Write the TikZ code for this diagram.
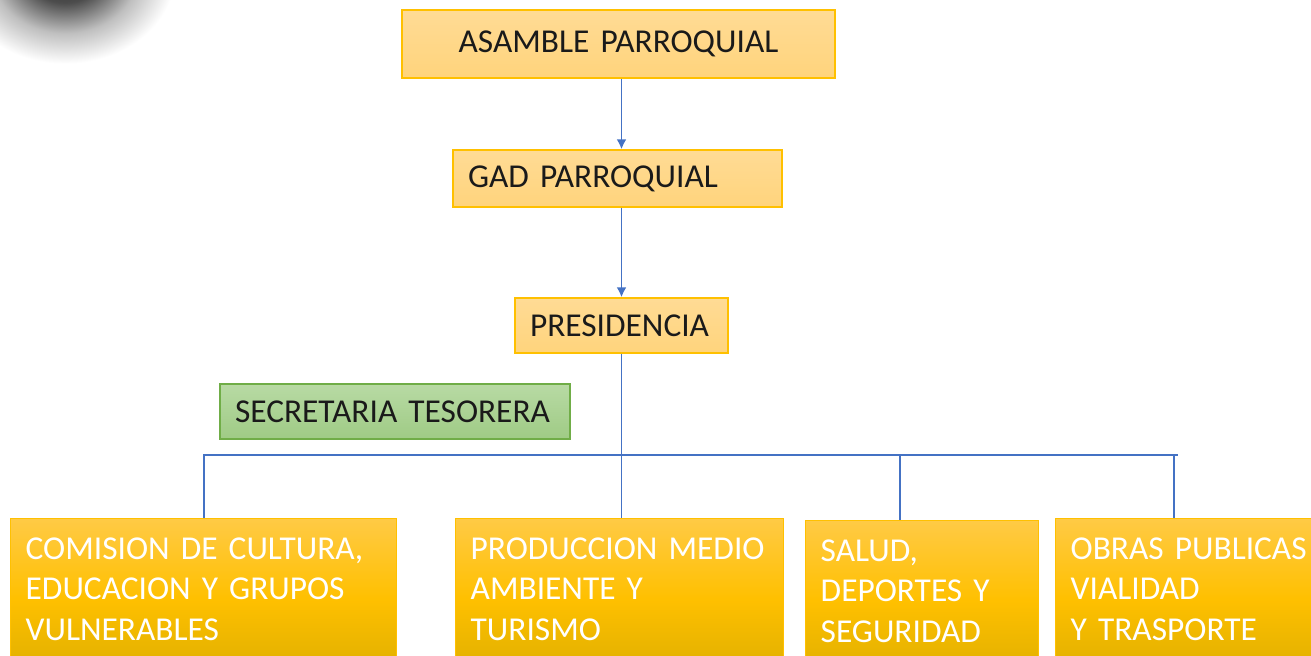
\documentclass[tikz,border=0pt]{standalone}
\usepackage{fontspec}
\setmainfont{Carlito}
\usepackage{tikz}
\usetikzlibrary{arrows.meta,positioning}
\definecolor{OrgBlue}{HTML}{4472C4}
\definecolor{OrgGold}{HTML}{FFC000}
\definecolor{OrgLightGold}{HTML}{FFDB95}
\definecolor{OrgLightGoldB}{HTML}{FFD47C}
\definecolor{OrgGreen}{HTML}{70AD47}
\definecolor{OrgLightGreen}{HTML}{B8DAA4}
\definecolor{OrgMidGreen}{HTML}{9FCB85}
\definecolor{OrgGoldTop}{HTML}{FFCA45}
\definecolor{OrgGoldBottom}{HTML}{DDAE00}
\definecolor{OrgText}{HTML}{1A1A1A}
\pgfdeclareradialshading{cornerblur}{\pgfpoint{0bp}{0bp}}{%
  color(0bp)=(black!85); color(8bp)=(black!70); color(16bp)=(black!25); color(24bp)=(white); color(50bp)=(white)}
\tikzset{
  office/.style={
    draw=OrgGold,
    line width=.8pt,
    font=\fontsize{19}{23}\selectfont,
    text=OrgText,
    top color=OrgLightGold,
    bottom color=OrgLightGoldB,
    inner xsep=3mm,
    inner ysep=0pt
  },
  secretary/.style={office,draw=OrgGreen,top color=OrgLightGreen,bottom color=OrgMidGreen},
  commission/.style={
    office,
    anchor=north west,
    align=left,
    inner ysep=3.8mm,
    text depth=2cm,
    text=white,
    top color=OrgGoldTop,
    bottom color=OrgGoldBottom,
    middle color=OrgGold
  },
  arrow/.style={-{Latex[length=2mm,width=2mm]},draw=OrgBlue,line width=1.1pt},
  link/.style={draw=OrgBlue,line width=1.1pt}
}

\begin{document}
\begin{tikzpicture}[x=1cm,y=1cm]
  \useasboundingbox (0,0) rectangle (26.22,13.1);
  \clip (0,0) rectangle (26.22,13.1);

  % Blurred shadow in the corner.
  \shade[shading=cornerblur] (1.3,13.65) ellipse (2.3cm and 1.9cm);

  % Chain of command down to the presidency.
  \node[office,text width=80.6mm,align=center,minimum height=13.6mm] (asamblea)    at (12.37,12.22) {ASAMBLE PARROQUIAL};
  \node[office,text width=59.8mm,align=left,minimum height=11.4mm]   (gad)         at (12.35,9.53)  {GAD PARROQUIAL};
  \node[office,text width=36.6mm,align=left,minimum height=11mm]     (presidencia) at (12.43,6.59)  {PRESIDENCIA};
  \node[secretary,text width=64mm,align=left,minimum height=11mm]    (secretaria)  at (7.90,4.87)   {SECRETARIA TESORERA};

  \draw[arrow] (asamblea.south -| presidencia) -- (gad.north -| presidencia);
  \draw[arrow] (gad.south -| presidencia) -- (presidencia.north);

  % Commissions along the bottom, cut off by the page edge.
  \node[commission,text width=71.2mm] (comision)   at (0.2,2.74)  {COMISION DE CULTURA,\\EDUCACION Y GRUPOS\\VULNERABLES};
  \node[commission,text width=59.6mm] (produccion) at (9.1,2.74)  {PRODUCCION MEDIO\\AMBIENTE Y\\TURISMO};
  \node[commission,text width=40.6mm] (salud)      at (16.1,2.70) {SALUD,\\DEPORTES Y\\SEGURIDAD};
  \node[commission,text width=48mm]   (obras)      at (21.1,2.74) {OBRAS PUBLICAS\\VIALIDAD\\Y TRASPORTE};

  \coordinate (busright)  at (23.56,4.0);
  \coordinate (dropsalud) at (18.0,4.0);
  \coordinate (dropobras) at (23.48,4.0);

  \draw[link] (presidencia.south) -- (presidencia.south |- produccion.north);
  \draw[link] (comision.north) |- (busright);
  \draw[link] (dropsalud) -- (dropsalud |- salud.north);
  \draw[link] (dropobras) -- (dropobras |- obras.north);
\end{tikzpicture}
\end{document}
